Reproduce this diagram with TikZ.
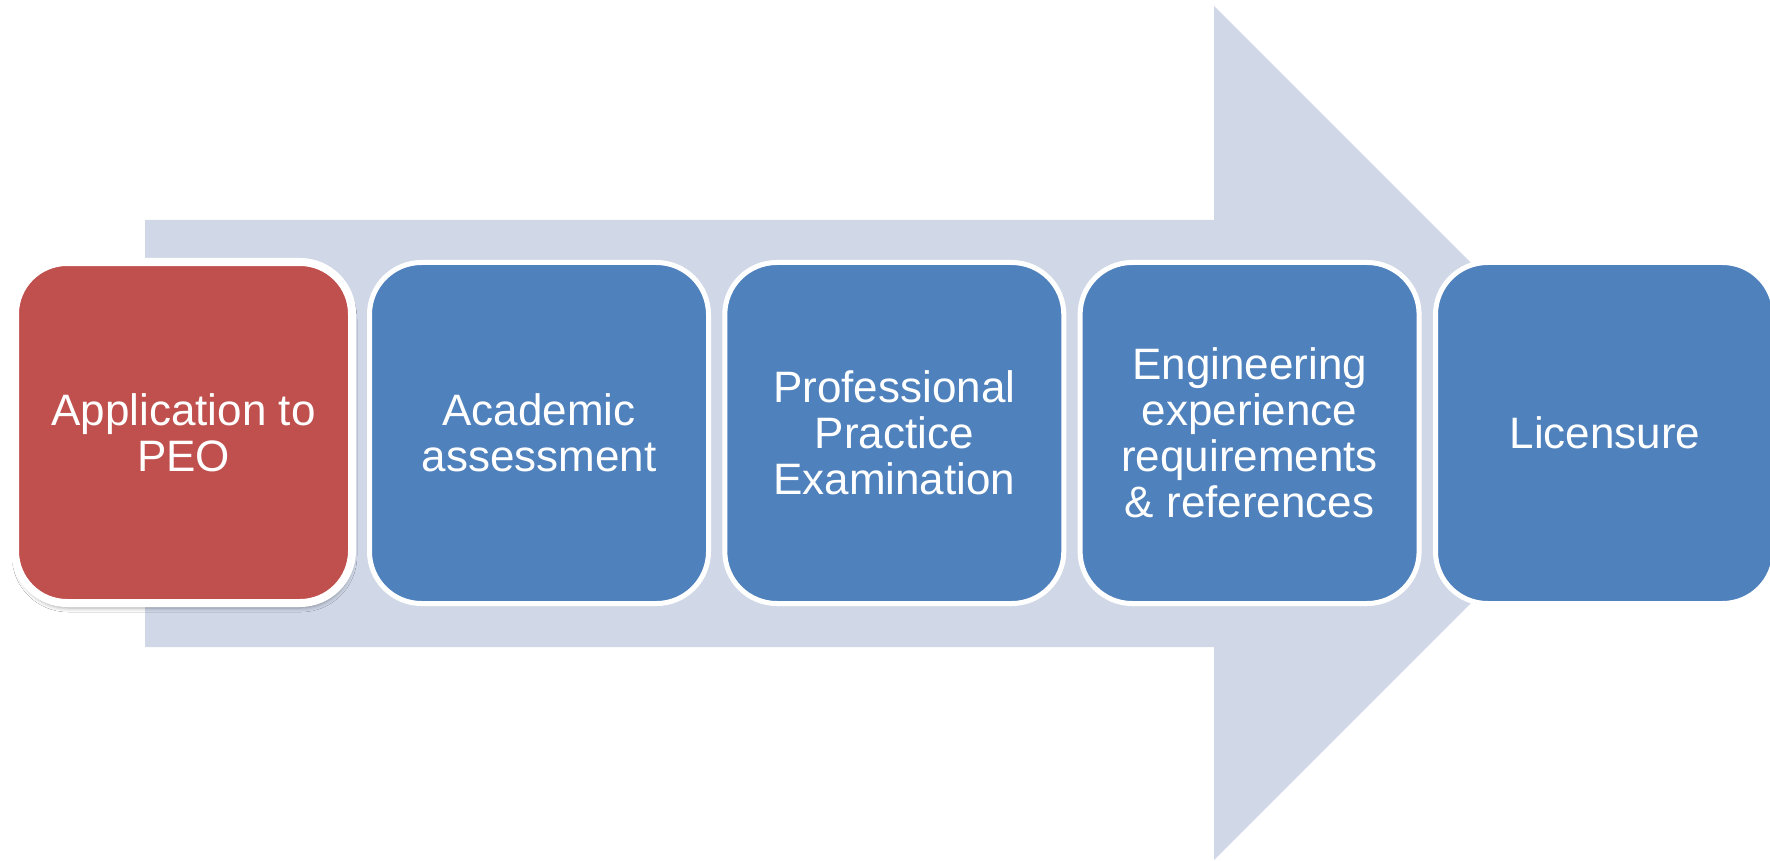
\documentclass[tikz,border=0pt]{standalone}
\usepackage{fontspec}
\setmainfont{Liberation Sans}
\usetikzlibrary{shadows.blur}
\definecolor{arrowbg}{HTML}{D0D8E8}
\definecolor{stepblue}{HTML}{4F81BD}
\definecolor{stepred}{HTML}{C0504D}
\tikzset{
  stepbox/.style={draw=white, line width=5pt, fill=stepblue, rounded corners=52pt,
    minimum width=339pt, minimum height=341pt, inner sep=0pt, outer sep=0pt,
    text=white, align=center, font=\fontsize{44}{46}\selectfont},
  activebox/.style={stepbox, fill=stepred, line width=8pt, minimum width=337pt,
    blur shadow={shadow xshift=1pt, shadow yshift=-5pt, shadow blur radius=4pt, shadow opacity=35}},
  bigarrow/.style={fill=arrowbg, draw=none}
}
\begin{document}
\begin{tikzpicture}[x=1pt, y=-1pt]
  \useasboundingbox (0,0) rectangle (1770,861);
  \clip (0,0) rectangle (1770,861);
  \fill[white] (0,0) rectangle (1770,861);
  % background arrow
  \path[bigarrow] (145,220) -- (1214,220) -- (1214,6) -- (1641,433) -- (1214,860)
        -- (1214,647) -- (145,647) -- cycle;
  % steps
  \node[activebox] (s1) at (183.5,432.5) {Application to\\PEO};
  \node[stepbox] (s2) at (539,433) {Academic\\assessment};
  \node[stepbox] (s3) at (894.3,433) {Professional\\Practice\\Examination};
  \node[stepbox] (s4) at (1249.6,433) {Engineering\\experience\\requirements\\\& references};
  \node[stepbox] (s5) at (1605,433) {Licensure};
\end{tikzpicture}
\end{document}
